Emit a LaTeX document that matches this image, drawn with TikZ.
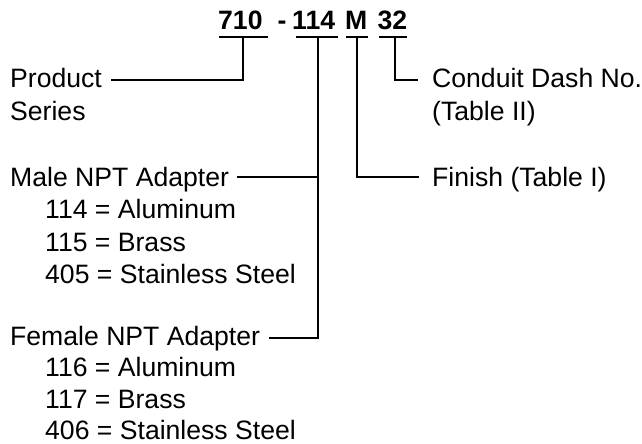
\documentclass[tikz,border=0pt]{standalone}
\usepackage{fontspec}
\setmainfont{Liberation Sans}
\begin{document}
\begin{tikzpicture}[x=1pt,y=-1pt,
  lbl/.style={inner sep=0pt,anchor=base west,font=\fontsize{26.6}{32.5}\selectfont},
  ttl/.style={inner sep=0pt,anchor=base west,font=\fontsize{26.6}{32.5}\selectfont\bfseries},
  ln/.style={line width=2pt}]
\useasboundingbox (0,0) rectangle (642,444);
% title parts
\node[ttl] (t710) at (218,30) {710};
\node[ttl] (tdash) at (277.5,30) {-};
\node[ttl] (t114) at (292,30) {114};
\node[ttl] (tM) at (345,30) {M};
\node[ttl] (t32) at (377.5,30) {32};
% underline ends and branch points
\coordinate (u710a) at (219,37.5); \coordinate (u710b) at (268,37.5);
\coordinate (u114a) at (296,37.5); \coordinate (u114b) at (338,37.5);
\coordinate (uMa) at (346,37.5);   \coordinate (uMb) at (368,37.5);
\coordinate (u32a) at (379,37.5);  \coordinate (u32b) at (407,37.5);
\coordinate (c710) at (243,37.5);
\coordinate (c114) at (318,37.5);
\coordinate (cM) at (357,37.5);
\coordinate (c32) at (395,37.5);
\draw[ln] (u710a) -- (u710b);
\draw[ln] (u114a) -- (u114b);
\draw[ln] (uMa) -- (uMb);
\draw[ln] (u32a) -- (u32b);
% left labels
\node[lbl] (prod) at (10,88) {Product};
\node[lbl] (series) at (10,120.5) {Series};
\node[lbl] (male) at (10,186) {Male NPT Adapter};
\node[lbl] (m114) at (45,218.5) {114 = Aluminum};
\node[lbl] (m115) at (45,251) {115 = Brass};
\node[lbl] (m405) at (45,283.5) {405 = Stainless Steel};
\node[lbl] (female) at (10,345) {Female NPT Adapter};
\node[lbl] (f116) at (45,376.5) {116 = Aluminum};
\node[lbl] (f117) at (45,408) {117 = Brass};
\node[lbl,text depth=0pt] (f406) at (45,439.5) {406 = Stainless Steel};
% right labels
\node[lbl] (cond) at (432,88) {Conduit Dash No.};
\node[lbl] (tab2) at (432,120.5) {(Table II)};
\node[lbl] (finish) at (432,186) {Finish (Table I)};
% connector start/end points
\coordinate (prodL) at ([shift={(9pt,8.5pt)}]prod.base east);
\coordinate (maleL) at ([shift={(8pt,9.5pt)}]male.base east);
\coordinate (femL) at ([shift={(9pt,7.5pt)}]female.base east);
\coordinate (condL) at ([shift={(-14pt,8.5pt)}]cond.base west);
\coordinate (finL) at ([shift={(-13pt,9pt)}]finish.base west);
% connectors
\draw[ln] (prodL) -| (c710);
\draw[ln] (femL) -| (c114);
\draw[ln] (maleL) -- (maleL -| c114);
\draw[ln] (cM) |- (finL);
\draw[ln] (c32) |- (condL);
\end{tikzpicture}
\end{document}
